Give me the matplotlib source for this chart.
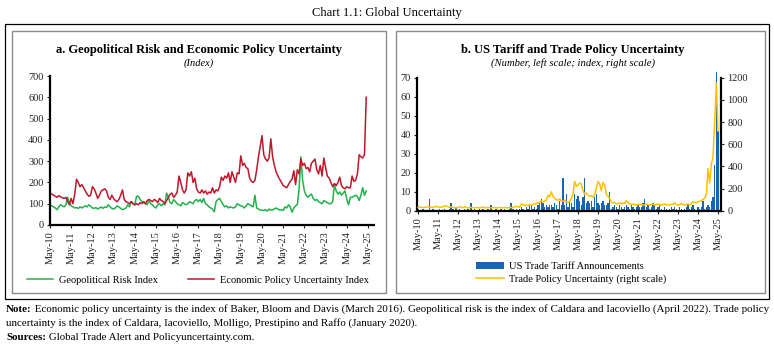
import matplotlib.pyplot as plt
from matplotlib.patches import Rectangle
import numpy as np

plt.rcParams['font.family'] = ['Liberation Serif', 'DejaVu Serif']

# monthly data, May-2010 onward
epu = [150, 145, 140, 135, 130, 138, 132, 128,
       125, 130, 110, 95, 125, 100, 145, 215, 200, 180, 190, 175,
       160, 145, 135, 140, 180, 170, 150, 125, 140, 160, 165, 170,
       160, 130, 120, 140, 125, 115, 110, 120, 140, 165, 120, 110,
       105, 100, 110, 100, 95, 100, 95, 105, 100, 110, 100, 115,
       120, 115, 110, 120, 115, 105, 125, 115, 110, 100, 115, 130,
       145, 150, 130, 140, 155, 230, 200, 165, 150, 165, 245, 230,
       250, 200, 220, 170, 155, 150, 165, 150, 160, 145, 155, 150,
       175, 150, 165, 160, 180, 225, 210, 230, 220, 245, 200, 250,
       225, 200, 245, 240, 325, 280, 290, 270, 265, 220, 205, 200,
       210, 260, 320, 370, 420, 330, 310, 300, 315, 405, 320, 280,
       250, 230, 215, 200, 185, 180, 175, 190, 205, 215, 255, 190,
       260, 240, 310, 280, 290, 265, 270, 250, 290, 300, 310, 260,
       240, 280, 230, 315, 270, 230, 220, 200, 180, 195, 185, 200,
       225, 185, 175, 170, 180, 175, 175, 230, 205, 210, 240, 330,
       320, 315, 330, 600]

gpr = [95, 90, 85, 80, 72, 85, 95, 90,
       85, 95, 130, 105, 90, 85, 80, 82, 78, 85, 80, 85,
       90, 85, 95, 88, 80, 78, 82, 75, 80, 85, 78, 85,
       82, 95, 85, 78, 75, 80, 90, 85, 78, 72, 75, 80,
       95, 85, 110, 100, 95, 135, 135, 120, 110, 105, 100, 95,
       115, 100, 95, 85, 80, 95, 100, 90, 100, 95, 150, 130,
       105, 100, 120, 110, 100, 95, 90, 105, 100, 95, 100, 110,
       105, 100, 115, 120, 110, 120, 105, 125, 100, 95, 85, 80,
       75, 62, 110, 120, 125, 110, 95, 85, 90, 80, 85, 82,
       80, 85, 100, 95, 90, 88, 80, 90, 100, 95, 90, 85,
       140, 80, 75, 70, 70, 68, 72, 65, 75, 70, 72, 75,
       80, 75, 70, 72, 68, 85, 80, 95, 85, 60, 80, 90,
       95, 170, 320, 210, 160, 140, 130, 140, 145, 125, 115, 120,
       110, 105, 100, 115, 110, 105, 100, 100, 110, 190, 160, 145,
       155, 140, 150, 160, 120, 95, 130, 130, 135, 140, 135, 115,
       140, 175, 140, 160]

tariffs = [1, 0, 0, 1, 0, 0, 0, 6,
           0, 1, 0, 0, 0, 1, 0, 0, 1, 0, 0, 1,
           4, 1, 0, 2, 0, 1, 0, 0, 1, 0, 1, 0,
           4, 0, 1, 0, 0, 1, 0, 1, 0, 0, 1, 0,
           3, 0, 0, 1, 0, 0, 1, 0, 1, 0, 0, 1,
           4, 1, 0, 1, 0, 1, 2, 1, 0, 2, 1, 3,
           3, 1, 2, 1, 3, 4, 6, 4, 2, 3, 2, 3,
           3, 2, 4, 3, 1, 5, 3, 17, 3, 9, 2, 5,
           4, 2, 9, 6, 8, 5, 3, 7, 17, 4, 5, 4,
           5, 2, 7, 9, 4, 3, 4, 5, 3, 3, 4, 10,
           1, 2, 3, 2, 1, 3, 2, 1, 2, 3, 2, 1,
           3, 2, 1, 2, 3, 2, 2, 4, 6, 2, 3, 1,
           2, 4, 3, 1, 2, 3, 1, 0, 2, 1, 0, 1,
           2, 1, 2, 1, 0, 2, 1, 0, 1, 2, 3, 1,
           2, 3, 1, 0, 2, 1, 2, 5, 1, 2, 3, 2,
           5, 7, 24, 73, 42]

tpu = [30, 35, 30, 28, 30, 32, 35, 30,
       30, 28, 35, 40, 35, 30, 32, 35, 45, 40, 35, 30,
       35, 30, 28, 25, 30, 35, 30, 28, 35, 30, 25, 28,
       30, 28, 25, 30, 28, 25, 30, 32, 28, 25, 30, 28,
       25, 28, 30, 25, 28, 30, 28, 25, 30, 28, 25, 30,
       30, 28, 35, 40, 35, 30, 60, 55, 45, 50, 45, 55,
       50, 55, 60, 65, 70, 75, 90, 80, 85, 95, 140, 125,
       170, 130, 110, 100, 95, 105, 90, 85, 95, 80, 75, 85,
       110, 150, 265, 220, 230, 250, 240, 180, 150, 160, 140, 130,
       135, 120, 150, 200, 265, 240, 180, 255, 230, 150, 130, 110,
       80, 70, 75, 60, 65, 70, 60, 70, 65, 90, 75, 60,
       55, 60, 55, 50, 55, 60, 55, 50, 55, 60, 55, 50,
       55, 60, 50, 55, 60, 55, 50, 55, 60, 55, 50, 55,
       55, 60, 70, 55, 50, 55, 65, 55, 50, 55, 60, 55,
       60, 80, 75, 70, 80, 85, 90, 100, 115, 150, 380, 250,
       420, 480, 800, 1150, 720]

tick_labels = ['May-%02d' % y for y in range(10, 26)]
tick_pos = [12 * i for i in range(len(tick_labels))]

W, H = 774, 353
fig = plt.figure(figsize=(W / 100, H / 100), dpi=100)


def box(x0, y0, x1, y1, color, lw):
    fig.patches.append(Rectangle((x0 / W, 1 - y1 / H), (x1 - x0) / W, (y1 - y0) / H,
                                 transform=fig.transFigure, fill=False,
                                 edgecolor=color, linewidth=lw))


box(5, 24, 769, 299, 'black', 0.9)
box(12, 31, 386, 293, '#8c8c8c', 1.0)
box(396, 31, 765, 293, '#8c8c8c', 1.0)

fig.text(387 / W, 1 - 13 / H, 'Chart 1.1: Global Uncertainty', ha='center', va='center',
         fontsize=9)


def style(ax):
    for s in ['top', 'right']:
        ax.spines[s].set_visible(False)
    ax.spines['left'].set_linewidth(1.6)
    ax.spines['bottom'].set_linewidth(1.6)
    ax.tick_params(axis='both', labelsize=7.5, length=2.5, width=0.8, pad=2,
                   colors='#222222')
    ax.set_xticks(tick_pos)
    ax.set_xticklabels(tick_labels, rotation=90)


# panel a
ax1 = fig.add_axes([50 / W, 1 - 225 / H, 324 / W, 149 / H])
m1 = np.arange(len(epu))
ax1.plot(m1, gpr, color='#22b14c', lw=1.1, label='Geopolitical Risk Index')
ax1.plot(m1, epu, color='#c0172b', lw=1.1, label='Economic Policy Uncertainty Index')
ax1.set_xlim(0, 183.4)
ax1.set_ylim(0, 700)
ax1.set_yticks(range(0, 701, 100))
style(ax1)
ax1.legend(loc='center', bbox_to_anchor=(198 / W, 1 - 280 / H), bbox_transform=fig.transFigure,
           ncol=2, frameon=False, fontsize=7.5, handlelength=2.5, columnspacing=2.8,
           handletextpad=0.6)
fig.text(199 / W, 1 - 50 / H, 'a. Geopolitical Risk and Economic Policy Uncertainty',
         ha='center', va='center', fontsize=9, fontweight='bold')
fig.text(199 / W, 1 - 63.5 / H, '(Index)', ha='center', va='center', fontsize=7.5,
         style='italic')

# panel b
ax2 = fig.add_axes([417 / W, 1 - 210.7 / H, 304 / W, 133 / H])
m2 = np.arange(len(tariffs))
ax2.bar(m2, tariffs, width=1.0, color='#1a64b4', label='US Trade Tariff Announcements',
        clip_on=False)
ax2.set_xlim(-0.6, 181.8)
ax2.set_ylim(0, 70)
ax2.set_yticks(range(0, 71, 10))
style(ax2)
ax3 = ax2.twinx()
ax3.plot(m2, tpu, color='#ffc000', lw=1.1, label='Trade Policy Uncertainty (right scale)')
ax3.set_ylim(0, 1200)
ax3.set_yticks(range(0, 1201, 200))
for s in ['top', 'left', 'bottom']:
    ax3.spines[s].set_visible(False)
ax3.spines['right'].set_linewidth(1.6)
ax3.tick_params(axis='y', labelsize=7.5, length=2.5, width=0.8, pad=2, colors='#222222')
h1, l1 = ax2.get_legend_handles_labels()
h2, l2 = ax3.get_legend_handles_labels()
fig.legend(h1 + h2, l1 + l2, loc='center', bbox_to_anchor=(571 / W, 1 - 273 / H),
           ncol=1, frameon=False, fontsize=7.5, handlelength=2.7, handletextpad=0.5,
           labelspacing=0.35)
fig.text(573 / W, 1 - 50 / H, 'b. US Tariff and Trade Policy Uncertainty',
         ha='center', va='center', fontsize=9, fontweight='bold')
fig.text(573 / W, 1 - 63.5 / H, '(Number, left scale; index, right scale)', ha='center',
         va='center', fontsize=7.7, style='italic')

# notes
renderer = fig.canvas.get_renderer()


def note(y, head, body, size=7.95):
    x = 6 / W
    if head:
        t = fig.text(x, 1 - y / H, head, fontsize=size, fontweight='bold', va='center')
        bb = t.get_window_extent(renderer)
        x = bb.x1 / (W)
    fig.text(x, 1 - y / H, body, fontsize=size, va='center')


note(309, 'Note:', ' Economic policy uncertainty is the index of Baker, Bloom and Davis (March 2016). '
     'Geopolitical risk is the index of Caldara and Iacoviello (April 2022). Trade policy')
note(323, '', 'uncertainty is the index of Caldara, Iacoviello, Molligo, Prestipino and Raffo (January 2020).')
note(338, 'Sources:', ' Global Trade Alert and Policyuncertainty.com.')

fig.savefig('out.png', dpi=100)
